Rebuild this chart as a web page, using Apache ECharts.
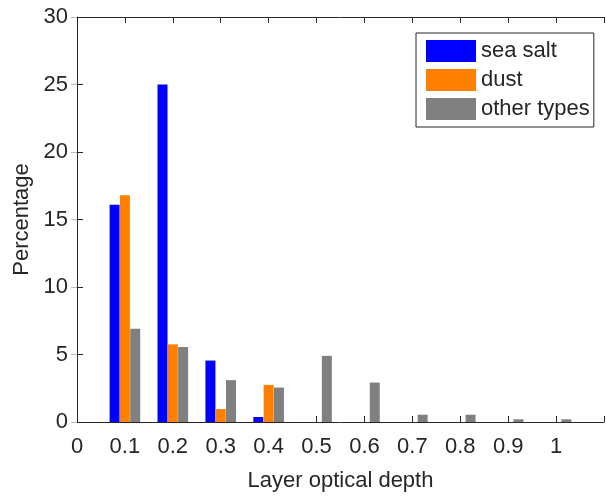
<!DOCTYPE html>
<html>
<head>
<meta charset="utf-8">
<script src="https://cdn.jsdelivr.net/npm/echarts@6/dist/echarts.min.js"></script>
<style>
  html, body { margin: 0; padding: 0; background: #fff; }
  #chart { width: 607px; height: 497px; }
</style>
</head>
<body>
<div id="chart"></div>
<script>
// bar positions on the x axis (layer optical depth)
const depths = [0.1, 0.2, 0.3, 0.4, 0.5, 0.6, 0.7, 0.8, 0.9, 1.0];
const seaSalt = [16.1, 25.0, 4.55, 0.37, 0, 0, 0, 0, 0, 0];
const dust = [16.8, 5.75, 0.96, 2.75, 0, 0, 0, 0, 0, 0];
const otherTypes = [6.9, 5.55, 3.1, 2.55, 4.9, 2.92, 0.54, 0.54, 0.2, 0.2];
const yTicks = [0, 5, 10, 15, 20, 25, 30];

const ink = "#262626";
const font = "Liberation Sans";

const pairs = (vals) => depths.map((d, i) => [d, vals[i]]);

const chart = echarts.init(document.querySelector("#chart"));

const axisCommon = {
  axisLine: { show: true, onZero: false, lineStyle: { color: ink, width: 1 } },
  axisTick: { show: true, inside: true, length: 6, lineStyle: { color: ink } },
  splitLine: { show: false },
};

chart.setOption({
  animation: false,
  textStyle: { fontFamily: font },
  grid: { left: 77, right: -4, top: 17, bottom: 73 },
  legend: {
    orient: "vertical",
    left: 416,
    top: 33,
    icon: "rect",
    itemWidth: 50,
    itemHeight: 22,
    itemGap: 7,
    itemTextGap: 4,
    padding: [7, 4, 7, 10],
    borderColor: ink,
    borderWidth: 1,
    backgroundColor: "#fff",
    textStyle: { fontSize: 22, color: ink, fontFamily: font },
    data: ["sea salt", "dust", "other types"],
  },
  xAxis: [
    {
      ...axisCommon,
      type: "value",
      min: 0,
      max: 1.1,
      interval: 0.1,
      name: "Layer optical depth",
      nameLocation: "middle",
      nameGap: 48,
      nameTextStyle: { fontSize: 22, color: ink, fontFamily: font },
      axisLabel: {
        fontSize: 22,
        color: ink,
        margin: 14,
        formatter: (v) => (v > 1.05 ? "" : String(+v.toFixed(1))),
      },
    },
    {
      ...axisCommon,
      type: "value",
      position: "top",
      min: 0,
      max: 1.1,
      interval: 0.1,
      axisLabel: { show: false },
    },
  ],
  yAxis: [
    {
      ...axisCommon,
      type: "value",
      min: yTicks[0],
      max: yTicks[yTicks.length - 1],
      interval: 5,
      name: "Percentage",
      nameLocation: "middle",
      nameGap: 44,
      nameTextStyle: { fontSize: 22, color: ink, fontFamily: font },
      axisLabel: { fontSize: 22, color: ink, margin: 9 },
    },
    {
      ...axisCommon,
      type: "value",
      position: "right",
      min: yTicks[0],
      max: yTicks[yTicks.length - 1],
      interval: 5,
      axisLine: { show: false },
      axisTick: { show: true, inside: true, length: 6, lineStyle: { color: "#bbb" } },
      axisLabel: { show: false },
    },
  ],
  series: [
    { name: "sea salt", type: "bar", data: pairs(seaSalt), barWidth: 10, barGap: "3%", itemStyle: { color: "#0000ff" } },
    { name: "dust", type: "bar", data: pairs(dust), barWidth: 10, barGap: "3%", itemStyle: { color: "#ff8000" } },
    { name: "other types", type: "bar", data: pairs(otherTypes), barWidth: 10, barGap: "3%", itemStyle: { color: "#808080" } },
  ],
});
</script>
</body>
</html>
